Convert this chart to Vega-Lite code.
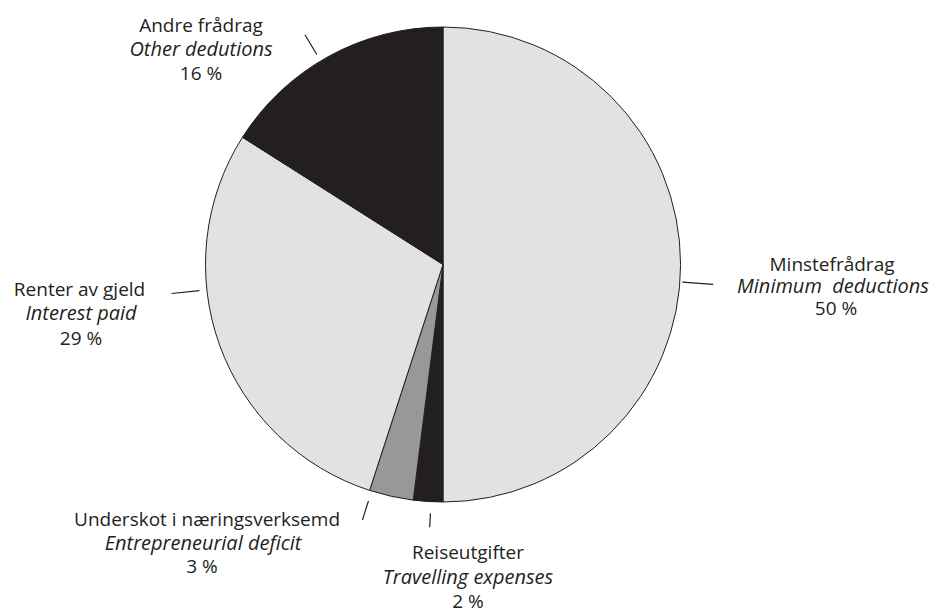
{
  "$schema": "https://vega.github.io/schema/vega-lite/v6.json",
  "width": 886,
  "height": 475,
  "autosize": {"type": "none"},
  "padding": {"left": 0, "top": 27, "right": 50, "bottom": 109},
  "background": "white",
  "config": {"view": {"stroke": null}},
  "data": {
    "values": [
      {"i": 1, "k": "Minstefrådrag", "en": "Minimum\u00a0 deductions", "pct": 50, "lab": "50 %"},
      {"i": 2, "k": "Reiseutgifter", "en": "Travelling expenses", "pct": 2, "lab": "2 %"},
      {"i": 3, "k": "Underskot i næringsverksemd", "en": "Entrepreneurial deficit", "pct": 3, "lab": "3 %"},
      {"i": 4, "k": "Renter av gjeld", "en": "Interest paid", "pct": 29, "lab": "29 %"},
      {"i": 5, "k": "Andre frådrag", "en": "Other dedutions", "pct": 16, "lab": "16 %"}
    ]
  },
  "encoding": {
    "theta": {"field": "pct", "type": "quantitative", "stack": true},
    "order": {"field": "i", "type": "ordinal"}
  },
  "layer": [
    {
      "mark": {"type": "arc", "stroke": "#231f20", "strokeWidth": 1},
      "encoding": {
        "color": {
          "field": "k",
          "type": "nominal",
          "legend": null,
          "scale": {
            "domain": ["Minstefrådrag", "Reiseutgifter", "Underskot i næringsverksemd", "Renter av gjeld", "Andre frådrag"],
            "range": ["#e1e2e4", "#231f20", "#97989a", "#e1e2e4", "#231f20"]
          }
        }
      }
    },
    {
      "mark": {"type": "arc", "stroke": "#231f20", "strokeWidth": 1.2, "fillOpacity": 0, "padAngle": 3, "thetaOffset": 0.0733},
      "encoding": {"radius": {"value": 271}, "radius2": {"value": 240},
        "strokeOpacity": {"condition": {"test": "datum.i == 1", "value": 1}, "value": 0}}
    },
    {
      "mark": {"type": "arc", "stroke": "#231f20", "strokeWidth": 1.2, "fillOpacity": 0, "padAngle": 3, "thetaOffset": -0.0122},
      "encoding": {"radius": {"value": 263}, "radius2": {"value": 249},
        "strokeOpacity": {"condition": {"test": "datum.i == 2", "value": 1}, "value": 0}}
    },
    {
      "mark": {"type": "arc", "stroke": "#231f20", "strokeWidth": 1.2, "fillOpacity": 0, "padAngle": 3, "thetaOffset": 0.0855},
      "encoding": {"radius": {"value": 268}, "radius2": {"value": 248},
        "strokeOpacity": {"condition": {"test": "datum.i == 3", "value": 1}, "value": 0}}
    },
    {
      "mark": {"type": "arc", "stroke": "#231f20", "strokeWidth": 1.2, "fillOpacity": 0, "padAngle": 3, "thetaOffset": 0.2391},
      "encoding": {"radius": {"value": 273}, "radius2": {"value": 245},
        "strokeOpacity": {"condition": {"test": "datum.i == 4", "value": 1}, "value": 0}}
    },
    {
      "mark": {"type": "arc", "stroke": "#231f20", "strokeWidth": 1.2, "fillOpacity": 0, "padAngle": 3, "thetaOffset": -0.0384},
      "encoding": {"radius": {"value": 268}, "radius2": {"value": 245},
        "strokeOpacity": {"condition": {"test": "datum.i == 5", "value": 1}, "value": 0}}
    },

    {"mark": {"type": "text", "font": "Open Sans", "fontSize": 19, "color": "#231f20", "align": "center", "baseline": "middle", "dx": -1, "dy": 0.5},
      "encoding": {"radius": {"value": 390}, "text": {"condition": {"test": "datum.i == 1", "field": "k", "type": "nominal"}, "value": ""}}},
    {"mark": {"type": "text", "font": "Open Sans", "fontSize": 20, "fontStyle": "italic", "color": "#231f20", "align": "center", "baseline": "middle", "dx": 0, "dy": 22.5},
      "encoding": {"radius": {"value": 390}, "text": {"condition": {"test": "datum.i == 1", "field": "en", "type": "nominal"}, "value": ""}}},
    {"mark": {"type": "text", "font": "Open Sans", "fontSize": 19, "color": "#231f20", "align": "center", "baseline": "middle", "dx": 3, "dy": 44.5},
      "encoding": {"radius": {"value": 390}, "text": {"condition": {"test": "datum.i == 1", "field": "lab", "type": "nominal"}, "value": ""}}},

    {"mark": {"type": "text", "font": "Open Sans", "fontSize": 19, "color": "#231f20", "align": "center", "baseline": "middle", "dx": 44.7, "dy": -24.4},
      "encoding": {"radius": {"value": 314}, "text": {"condition": {"test": "datum.i == 2", "field": "k", "type": "nominal"}, "value": ""}}},
    {"mark": {"type": "text", "font": "Open Sans", "fontSize": 20, "fontStyle": "italic", "color": "#231f20", "align": "center", "baseline": "middle", "dx": 44.7, "dy": 0},
      "encoding": {"radius": {"value": 314}, "text": {"condition": {"test": "datum.i == 2", "field": "en", "type": "nominal"}, "value": ""}}},
    {"mark": {"type": "text", "font": "Open Sans", "fontSize": 19, "color": "#231f20", "align": "center", "baseline": "middle", "dx": 44.7, "dy": 24},
      "encoding": {"radius": {"value": 314}, "text": {"condition": {"test": "datum.i == 2", "field": "lab", "type": "nominal"}, "value": ""}}},

    {"mark": {"type": "text", "font": "Open Sans", "fontSize": 19, "color": "#231f20", "align": "center", "baseline": "middle", "dx": -172.7, "dy": -27.5},
      "encoding": {"radius": {"value": 290}, "text": {"condition": {"test": "datum.i == 3", "field": "k", "type": "nominal"}, "value": ""}}},
    {"mark": {"type": "text", "font": "Open Sans", "fontSize": 20, "fontStyle": "italic", "color": "#231f20", "align": "center", "baseline": "middle", "dx": -176.7, "dy": -4},
      "encoding": {"radius": {"value": 290}, "text": {"condition": {"test": "datum.i == 3", "field": "en", "type": "nominal"}, "value": ""}}},
    {"mark": {"type": "text", "font": "Open Sans", "fontSize": 19, "color": "#231f20", "align": "center", "baseline": "middle", "dx": -177.7, "dy": 19.5},
      "encoding": {"radius": {"value": 290}, "text": {"condition": {"test": "datum.i == 3", "field": "lab", "type": "nominal"}, "value": ""}}},

    {"mark": {"type": "text", "font": "Open Sans", "fontSize": 19, "color": "#231f20", "align": "center", "baseline": "middle", "dx": -19.1, "dy": -98.5},
      "encoding": {"radius": {"value": 366}, "text": {"condition": {"test": "datum.i == 4", "field": "k", "type": "nominal"}, "value": ""}}},
    {"mark": {"type": "text", "font": "Open Sans", "fontSize": 20, "fontStyle": "italic", "color": "#231f20", "align": "center", "baseline": "middle", "dx": -17.6, "dy": -74},
      "encoding": {"radius": {"value": 366}, "text": {"condition": {"test": "datum.i == 4", "field": "en", "type": "nominal"}, "value": ""}}},
    {"mark": {"type": "text", "font": "Open Sans", "fontSize": 19, "color": "#231f20", "align": "center", "baseline": "middle", "dx": -17.6, "dy": -49.5},
      "encoding": {"radius": {"value": 366}, "text": {"condition": {"test": "datum.i == 4", "field": "lab", "type": "nominal"}, "value": ""}}},

    {"mark": {"type": "text", "font": "Open Sans", "fontSize": 19, "color": "#231f20", "align": "center", "baseline": "middle", "dx": -85.9, "dy": 45.4},
      "encoding": {"radius": {"value": 324}, "text": {"condition": {"test": "datum.i == 5", "field": "k", "type": "nominal"}, "value": ""}}},
    {"mark": {"type": "text", "font": "Open Sans", "fontSize": 20, "fontStyle": "italic", "color": "#231f20", "align": "center", "baseline": "middle", "dx": -85.9, "dy": 69.4},
      "encoding": {"radius": {"value": 324}, "text": {"condition": {"test": "datum.i == 5", "field": "en", "type": "nominal"}, "value": ""}}},
    {"mark": {"type": "text", "font": "Open Sans", "fontSize": 19, "color": "#231f20", "align": "center", "baseline": "middle", "dx": -85.9, "dy": 93.4},
      "encoding": {"radius": {"value": 324}, "text": {"condition": {"test": "datum.i == 5", "field": "lab", "type": "nominal"}, "value": ""}}}
  ]
}
